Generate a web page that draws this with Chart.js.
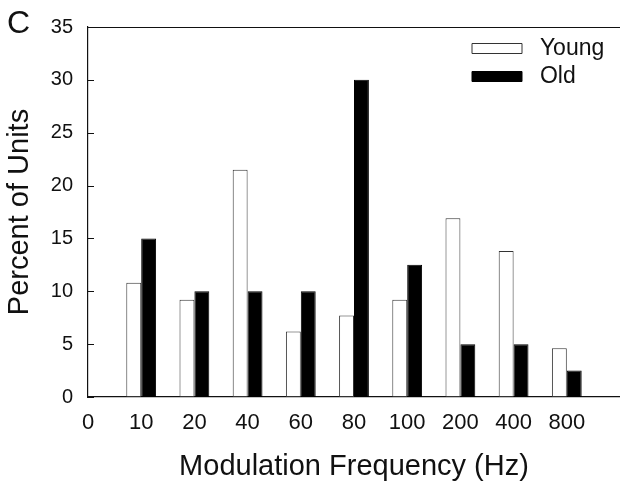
<!DOCTYPE html>
<html>
<head>
<meta charset="utf-8">
<script src="https://cdn.jsdelivr.net/npm/chart.js@4.4.1/dist/chart.umd.min.js"></script>
<style>
  html, body { margin: 0; padding: 0; background: #fff; overflow: hidden; }
  #wrap { width: 620px; height: 485px; position: relative; }
</style>
</head>
<body>
<div id="wrap"><canvas id="chart-bar"></canvas></div>
<script>
// frequency bins (first and last slots are empty so the axis runs 0 .. edge)
var freqLabels = ['0', '10', '20', '40', '60', '80', '100', '200', '400', '800', ''];
var youngPct = [null, 10.8, 9.2, 21.5, 6.2, 7.7, 9.2, 16.9, 13.8, 4.6, null];
var oldPct = [null, 15, 10, 10, 10, 30, 12.5, 5, 5, 2.5, null];
var yTicks = [0, 5, 10, 15, 20, 25, 30, 35];

var ink = '#111';
var fontFam = '"Liberation Sans", Arial, Helvetica, sans-serif';

// little ticks pointing into the plot, plus the top frame line and panel letter
var frame = {
    id: 'frame',
    afterDatasetsDraw: function(chart) {
        var ctx = chart.ctx, a = chart.chartArea, y = chart.scales.y;
        ctx.save();
        ctx.strokeStyle = ink;
        ctx.lineWidth = 1.2;
        ctx.beginPath();
        ctx.moveTo(a.left, a.top + 0.5);
        ctx.lineTo(a.right, a.top + 0.5);
        yTicks.forEach(function(v) {
            var py = Math.round(y.getPixelForValue(v)) + 0.5;
            ctx.moveTo(a.left, py);
            ctx.lineTo(a.left + 6, py);
        });
        ctx.stroke();
        ctx.fillStyle = ink;
        ctx.font = '32px ' + fontFam;
        ctx.textBaseline = 'alphabetic';
        ctx.fillText('C', 7, 33);
        ctx.restore();
    }
};

// park the legend in the upper right of the plot
var legendSpot = {
    id: 'legendSpot',
    afterLayout: function(chart) {
        var lg = chart.legend;
        if (!lg) return;
        lg.left = 467;
        lg.top = 32;
        lg.right = lg.left + lg.width;
        lg.bottom = lg.top + lg.height;
    }
};

var ctx = document.getElementById('chart-bar');
var myBarChart = new Chart(ctx, {
    type: 'bar',
    data: {
        labels: freqLabels,
        datasets: [{
            label: 'Young',
            data: youngPct,
            backgroundColor: '#fff',
            borderColor: '#333',
            borderWidth: 1,
            borderSkipped: false
        }, {
            label: 'Old',
            data: oldPct,
            backgroundColor: '#000',
            borderColor: '#000',
            borderWidth: 1,
            borderSkipped: false
        }]
    },
    options: {
        responsive: true,
        maintainAspectRatio: false,
        animation: false,
        layout: { padding: { top: 20, right: 0, bottom: 0, left: 0 } },
        datasets: {
            bar: { categoryPercentage: 0.56, barPercentage: 1.0 }
        },
        scales: {
            x: {
                offset: false,
                grid: { display: false, drawTicks: false },
                border: { display: true, color: ink, width: 1.2 },
                ticks: {
                    color: ink,
                    padding: 13,
                    maxRotation: 0,
                    autoSkip: false,
                    font: { family: fontFam, size: 22 }
                },
                title: {
                    display: true,
                    text: 'Modulation Frequency (Hz)',
                    color: ink,
                    padding: { top: 0, bottom: 1 },
                    font: { family: fontFam, size: 29 }
                },
                afterFit: function(scale) {
                    scale.height = 88;
                    scale.paddingRight = 0;
                }
            },
            y: {
                min: 0,
                max: 35,
                grid: { display: false, drawTicks: false },
                border: { display: true, color: ink, width: 1.2 },
                ticks: {
                    stepSize: 5,
                    color: ink,
                    padding: 15,
                    font: { family: fontFam, size: 20 }
                },
                title: {
                    display: true,
                    text: 'Percent of Units',
                    color: ink,
                    padding: { top: 3, bottom: 0 },
                    font: { family: fontFam, size: 29 }
                },
                afterFit: function(scale) { scale.width = 88; }
            }
        },
        plugins: {
            tooltip: { enabled: false },
            legend: {
                position: 'chartArea',
                align: 'start',
                labels: {
                    boxWidth: 50,
                    boxHeight: 10,
                    padding: 5,
                    color: ink,
                    font: { family: fontFam, size: 23 },
                    // a bit more air between swatch and text
                    generateLabels: function(chart) {
                        var items = Chart.defaults.plugins.legend.labels.generateLabels(chart);
                        items.forEach(function(it) { it.text = ' ' + it.text; });
                        return items;
                    }
                }
            }
        }
    },
    plugins: [frame, legendSpot]
});
</script>
</body>
</html>
